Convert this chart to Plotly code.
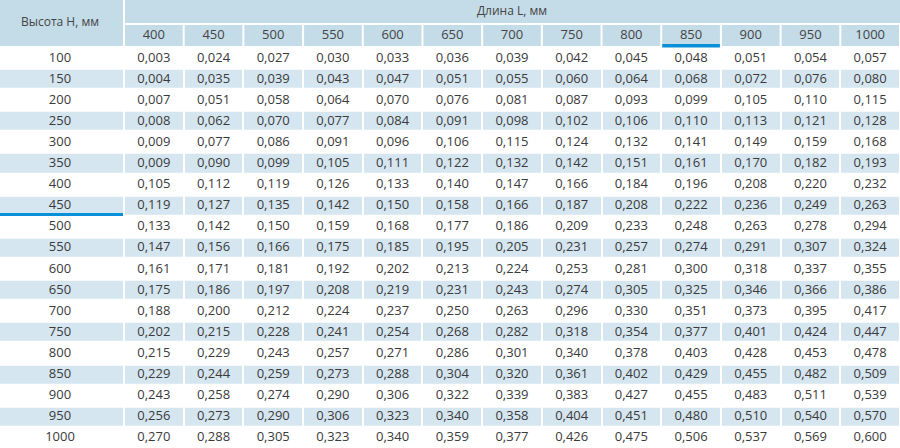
import plotly.graph_objects as go

heights = [100, 150, 200, 250, 300, 350, 400, 450, 500, 550,
           600, 650, 700, 750, 800, 850, 900, 950, 1000]
lengths = [400, 450, 500, 550, 600, 650, 700, 750, 800, 850, 900, 950, 1000]

values = [
    [0.003, 0.024, 0.027, 0.030, 0.033, 0.036, 0.039, 0.042, 0.045, 0.048, 0.051, 0.054, 0.057],
    [0.004, 0.035, 0.039, 0.043, 0.047, 0.051, 0.055, 0.060, 0.064, 0.068, 0.072, 0.076, 0.080],
    [0.007, 0.051, 0.058, 0.064, 0.070, 0.076, 0.081, 0.087, 0.093, 0.099, 0.105, 0.110, 0.115],
    [0.008, 0.062, 0.070, 0.077, 0.084, 0.091, 0.098, 0.102, 0.106, 0.110, 0.113, 0.121, 0.128],
    [0.009, 0.077, 0.086, 0.091, 0.096, 0.106, 0.115, 0.124, 0.132, 0.141, 0.149, 0.159, 0.168],
    [0.009, 0.090, 0.099, 0.105, 0.111, 0.122, 0.132, 0.142, 0.151, 0.161, 0.170, 0.182, 0.193],
    [0.105, 0.112, 0.119, 0.126, 0.133, 0.140, 0.147, 0.166, 0.184, 0.196, 0.208, 0.220, 0.232],
    [0.119, 0.127, 0.135, 0.142, 0.150, 0.158, 0.166, 0.187, 0.208, 0.222, 0.236, 0.249, 0.263],
    [0.133, 0.142, 0.150, 0.159, 0.168, 0.177, 0.186, 0.209, 0.233, 0.248, 0.263, 0.278, 0.294],
    [0.147, 0.156, 0.166, 0.175, 0.185, 0.195, 0.205, 0.231, 0.257, 0.274, 0.291, 0.307, 0.324],
    [0.161, 0.171, 0.181, 0.192, 0.202, 0.213, 0.224, 0.253, 0.281, 0.300, 0.318, 0.337, 0.355],
    [0.175, 0.186, 0.197, 0.208, 0.219, 0.231, 0.243, 0.274, 0.305, 0.325, 0.346, 0.366, 0.386],
    [0.188, 0.200, 0.212, 0.224, 0.237, 0.250, 0.263, 0.296, 0.330, 0.351, 0.373, 0.395, 0.417],
    [0.202, 0.215, 0.228, 0.241, 0.254, 0.268, 0.282, 0.318, 0.354, 0.377, 0.401, 0.424, 0.447],
    [0.215, 0.229, 0.243, 0.257, 0.271, 0.286, 0.301, 0.340, 0.378, 0.403, 0.428, 0.453, 0.478],
    [0.229, 0.244, 0.259, 0.273, 0.288, 0.304, 0.320, 0.361, 0.402, 0.429, 0.455, 0.482, 0.509],
    [0.243, 0.258, 0.274, 0.290, 0.306, 0.322, 0.339, 0.383, 0.427, 0.455, 0.483, 0.511, 0.539],
    [0.256, 0.273, 0.290, 0.306, 0.323, 0.340, 0.358, 0.404, 0.451, 0.480, 0.510, 0.540, 0.570],
    [0.270, 0.288, 0.305, 0.323, 0.340, 0.359, 0.377, 0.426, 0.475, 0.506, 0.537, 0.569, 0.600],
]

row_title = "Высота H, мм"
col_title = "Длина L, мм"
marked_height = 450
marked_length = 850

HEADER_BG = "#c4dce8"
STRIPE_BG = "#d5e6f0"
ACCENT = "#0a8fd9"
TEXT = "#3a3a3a"
FONT = "Open Sans"

# grid in pixel-like axis units (figure is 900 x 448, no margins)
W, H = 900, 448
first_w = 124
col_w = (W - first_w) / len(lengths)
x_edges = [-1, first_w] + [first_w + col_w * (k + 1) for k in range(len(lengths))]
body_top = 47.7
row_h = 21.1
y_edges = [body_top + row_h * i for i in range(len(heights) + 1)]

x_mid = [(x_edges[k] + x_edges[k + 1]) / 2 for k in range(len(x_edges) - 1)]
x_mid[0] = 60
y_mid = [(y_edges[i] + y_edges[i + 1]) / 2 for i in range(len(heights))]


def fmt(v):
    return f"{v:.3f}".replace(".", ",")


fig = go.Figure()

# striped body
stripes = [[i % 2] * (len(lengths) + 1) for i in range(len(heights))]
fig.add_trace(go.Heatmap(
    z=stripes, x=x_edges, y=y_edges,
    colorscale=[[0, "white"], [1, STRIPE_BG]], zmin=0, zmax=1,
    xgap=2, ygap=3, showscale=False, hoverinfo="skip",
))

# body text
tx, ty, tt = [], [], []
for i, h in enumerate(heights):
    tx.append(x_mid[0]); ty.append(y_mid[i]); tt.append(str(h))
    for k, v in enumerate(values[i]):
        tx.append(x_mid[k + 1]); ty.append(y_mid[i]); tt.append(fmt(v))
fig.add_trace(go.Scatter(
    x=tx, y=ty, text=tt, mode="text", hoverinfo="skip",
    textfont=dict(family=FONT, size=13, color=TEXT),
))

# header cells
shapes = [
    dict(type="rect", x0=0, x1=first_w - 1, y0=0, y1=46),
    dict(type="rect", x0=first_w + 1, x1=W, y0=0, y1=23),
]
for k in range(len(lengths)):
    shapes.append(dict(type="rect", x0=x_edges[k + 1] + 1, x1=x_edges[k + 2] - 1, y0=25, y1=46))
for s in shapes:
    s.update(xref="x", yref="y", fillcolor=HEADER_BG, line=dict(width=0), layer="below")

# accent bars
kc = lengths.index(marked_length) + 1
shapes.append(dict(type="rect", xref="x", yref="y", x0=x_edges[kc] + 1, x1=x_edges[kc + 1] - 1,
                   y0=44, y1=47.5, fillcolor=ACCENT, line=dict(width=0)))
ir = heights.index(marked_height)
shapes.append(dict(type="rect", xref="x", yref="y", x0=0, x1=first_w - 1,
                   y0=y_edges[ir + 1] - 3.5, y1=y_edges[ir + 1] - 0.5,
                   fillcolor=ACCENT, line=dict(width=0)))

# header text
hx = [60, (first_w + W) / 2] + x_mid[1:]
hy = [23, 12] + [35.5] * len(lengths)
ht = [row_title, col_title] + [str(l) for l in lengths]
hs = [12, 12] + [13] * len(lengths)
fig.add_trace(go.Scatter(
    x=hx, y=hy, text=ht, mode="text", hoverinfo="skip",
    textfont=dict(family=FONT, size=hs, color="#444444"),
))

fig.update_layout(
    width=W, height=H,
    margin=dict(l=0, r=0, t=0, b=0),
    paper_bgcolor="white", plot_bgcolor="white",
    showlegend=False, shapes=shapes,
    xaxis=dict(range=[0, W], visible=False, fixedrange=True),
    yaxis=dict(range=[H, 0], visible=False, fixedrange=True),
)

# drop the page's default body margin so the figure fills the window
fig.write_html("out.html", config={"displayModeBar": False},
               post_script="document.body.style.margin='0';document.body.style.overflow='hidden';")
